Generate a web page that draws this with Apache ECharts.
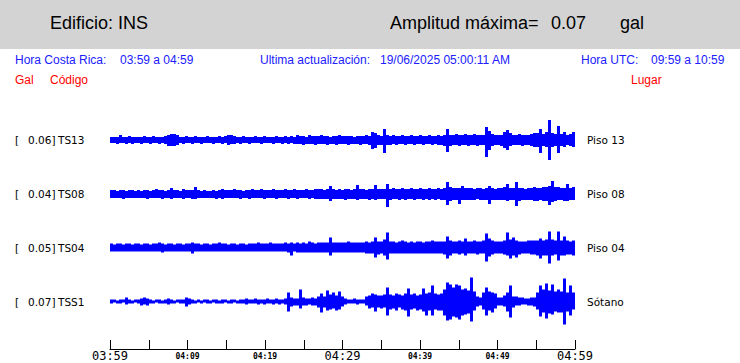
<!DOCTYPE html>
<html>
<head>
<meta charset="utf-8">
<script src="https://cdn.jsdelivr.net/npm/echarts@6/dist/echarts.min.js"></script>
<style>html,body{margin:0;padding:0;background:#fff}#c{width:740px;height:363px}</style>
</head>
<body>
<div id="c"></div>
<script>
// ---- data ----
var codes = ['TS13', 'TS08', 'TS04', 'TSS1'];
var places = ['Piso 13', 'Piso 08', 'Piso 04', 'Sótano'];
var peaks = ['0.06', '0.04', '0.05', '0.07'];
var tickLabels = ['03:59', '04:09', '04:19', '04:29', '04:39', '04:49', '04:59'];
var bigLabels = ['03:59', '04:29', '04:59'];
var durationMin = 60;

// envelope (upper / lower) per time bin, display units
var ts13Up = [3,3,3,5,3,3,4,3,3,3, 3,4,3,3,4,3,3,3,4,5, 6,6,5,3,3,4,3,3,4,3, 3,3,4,3,3,3,4,3,4,5, 5,4,3,3,4,3,3,3,4,3,
  3,4,3,3,3,4,3,3,4,3, 4,3,5,4,4,3,5,4,4,4, 5,4,4,3,4,4,5,4,4,4, 4,3,4,4,4,5,4,8,7,5, 4,11,5,4,5,4,4,5,4,4,
  5,4,4,5,4,4,5,4,4,5, 4,5,11,5,5,6,5,5,6,5, 5,6,5,5,5,13,9,6,5,5, 5,8,10,7,5,5,6,5,5,5, 6,7,7,11,6,8,20,7,6,14, 6,8,5,6,8];
var ts13Dn = [3,3,4,3,3,4,3,4,3,3, 4,3,3,4,3,3,4,3,4,6, 6,6,5,3,4,3,3,4,3,3, 4,3,3,3,4,3,3,4,3,5, 4,4,3,4,3,3,4,3,3,3,
  4,3,3,3,4,3,3,4,3,4, 3,4,4,4,5,4,4,4,5,4, 4,4,5,4,4,5,4,4,4,5, 4,4,4,5,4,4,5,9,8,5, 5,13,5,5,4,5,4,4,5,4,
  4,5,4,4,5,4,4,5,4,5, 5,6,12,6,5,5,6,5,5,6, 5,5,6,5,5,17,10,6,5,5, 6,8,10,6,5,5,5,6,5,5, 6,7,7,13,6,7,20,7,6,13, 6,7,5,6,7];
var ts08Up = [4,4,3,4,4,3,4,4,3,4, 3,4,4,3,4,5,4,4,3,4, 6,4,4,3,5,4,4,4,7,4, 3,4,3,3,4,3,4,5,4,4, 4,5,4,4,3,4,4,5,4,4,
  5,4,4,4,5,4,4,4,5,4, 4,5,4,4,4,5,4,4,5,5, 5,4,5,8,5,4,5,4,5,5, 4,5,9,5,5,4,5,5,9,5, 5,5,10,5,6,5,5,6,5,5,
  6,5,5,6,5,5,6,5,5,6, 5,6,12,7,6,6,6,8,6,6, 6,5,6,6,5,6,8,6,5,6, 6,7,10,6,6,12,6,6,5,6, 6,7,6,6,7,7,8,13,7,7, 6,6,10,6,7];
var ts08Dn = [4,4,4,4,5,4,4,4,4,4, 4,4,5,4,4,4,4,5,4,4, 5,4,4,4,5,4,4,5,5,4, 4,4,4,4,4,5,4,5,4,4, 4,4,4,5,4,4,5,4,4,4,
  4,5,4,4,4,5,4,4,4,5, 4,4,5,4,4,4,5,4,5,5, 5,5,5,7,5,5,5,5,6,5, 5,5,6,5,5,5,6,5,6,5, 5,5,13,6,5,5,6,5,6,5,
  5,6,5,5,6,5,6,5,6,5, 6,6,11,7,6,6,10,6,6,6, 6,6,5,6,6,6,10,6,6,6, 6,6,7,6,6,12,7,6,6,6, 6,7,7,6,7,7,11,8,7,6, 6,7,7,6,6];
var ts04Up = [4,3,4,4,3,4,4,3,4,4, 3,4,4,3,4,4,5,4,3,4, 4,3,4,4,3,4,4,5,4,4, 3,4,4,3,4,4,5,4,4,3, 4,4,3,4,4,3,4,4,4,5,
  4,4,4,5,4,4,4,4,5,4, 5,4,5,4,5,4,6,5,4,5, 5,5,5,10,5,5,5,5,5,6, 5,5,5,5,5,6,5,6,10,6, 6,8,15,6,6,5,6,7,6,5,
  6,5,6,6,5,6,6,7,6,6, 6,6,11,7,6,6,7,6,9,6, 6,7,6,6,7,14,9,7,6,6, 6,7,15,8,10,7,6,6,6,7, 7,7,7,9,7,8,16,8,7,16, 7,11,7,6,7];
var ts04Dn = [4,4,4,4,4,4,4,4,4,4, 4,4,4,4,4,4,4,5,4,4, 4,4,4,4,4,4,4,6,4,4, 4,4,4,4,4,4,4,4,4,4, 4,4,4,4,4,4,4,4,4,4,
  4,4,4,4,4,4,4,4,4,5, 8,4,5,5,5,5,5,5,5,5, 5,5,5,8,5,5,5,5,5,5, 5,5,5,5,5,6,6,6,10,7, 6,8,12,6,6,6,6,6,6,6,
  6,6,6,6,6,6,6,6,6,6, 6,7,11,8,6,6,7,6,8,6, 6,6,7,6,6,14,9,7,6,6, 6,7,8,11,8,10,7,6,6,6, 7,7,8,11,8,8,16,8,7,13, 8,8,7,7,8];
var tss1Up = [2,2,1,2,2,4,2,1,2,2, 3,4,3,2,1,2,2,1,2,3, 2,1,2,2,2,4,3,2,1,2, 1,2,2,1,2,2,1,2,2,1, 2,2,1,2,2,3,2,2,3,2,
  2,2,3,2,2,3,2,2,3,9, 4,3,3,12,4,3,3,4,3,5, 8,5,11,7,9,6,10,5,3,2, 2,3,2,2,2,5,6,8,7,6, 6,7,14,7,6,8,7,6,8,13,
  7,8,6,7,13,8,9,16,8,7, 8,12,19,17,14,17,16,12,13,11, 24,10,5,4,9,14,10,9,8,4, 4,6,9,16,5,5,4,4,3,3, 4,4,9,16,12,18,11,17,10,12, 10,23,9,16,9];
var tss1Dn = [2,1,2,2,1,3,2,2,1,2, 4,3,4,2,2,1,2,2,2,3, 2,2,1,2,2,5,3,2,2,1, 2,1,2,2,1,2,2,2,1,2, 2,1,2,2,2,3,2,2,2,3,
  2,3,2,2,3,2,3,2,3,10, 5,4,4,7,4,4,3,4,4,6, 11,6,9,8,7,9,8,5,3,2, 2,2,3,2,2,4,7,6,10,6, 7,6,14,8,7,9,6,8,9,15,
  8,7,9,8,10,14,9,14,8,9, 9,14,19,18,15,16,18,14,13,12, 20,9,5,4,8,14,9,11,7,4, 4,5,10,16,6,4,4,3,3,4, 4,5,8,15,11,17,12,13,10,11, 11,23,10,14,8];

var ups = [ts13Up, ts08Up, ts04Up, tss1Up];
var dns = [ts13Dn, ts08Dn, ts04Dn, tss1Dn];

// ---- layout ----
var centers = [140, 194, 247.5, 301.5];
var half = 30;
var plotLeft = 110, plotWidth = 465;
var blue = '#0000ff';

var grids = [], xAxes = [], yAxes = [], series = [];
centers.forEach(function (c, k) {
  grids.push({left: plotLeft, width: plotWidth, top: c - half, height: 2 * half});
  xAxes.push({gridIndex: k, type: 'value', min: 0, max: durationMin, show: false});
  yAxes.push({gridIndex: k, type: 'value', min: -half, max: half, show: false});
  var n = ups[k].length;
  var binW = durationMin / n;
  var data = ups[k].map(function (u, i) { return [i * binW, u, dns[k][i], (i + 1) * binW]; });
  series.push({
    type: 'custom', xAxisIndex: k, yAxisIndex: k, silent: true, animation: false,
    renderItem: function (params, api) {
      var p0 = api.coord([api.value(0), api.value(1)]);
      var p1 = api.coord([api.value(3), -api.value(2)]);
      return {type: 'rect', shape: {x: p0[0], y: p0[1], width: p1[0] - p0[0], height: p1[1] - p0[1]},
        style: {fill: blue}};
    },
    data: data
  });
});
// time axis
grids.push({left: plotLeft, width: plotWidth, top: 300, height: 49});
xAxes.push({
  gridIndex: 4, type: 'value', min: 0, max: durationMin, interval: 5,
  axisLine: {show: true, lineStyle: {color: '#000', width: 1}},
  axisTick: {show: true, inside: true, length: 9, lineStyle: {color: '#000'}},
  splitLine: {show: false},
  axisLabel: {
    margin: 7, verticalAlign: 'middle', showMinLabel: true, showMaxLabel: true,
    formatter: function (v) {
      if (v % 10 !== 0) return '';
      var t = tickLabels[v / 10];
      return bigLabels.indexOf(t) >= 0 ? '{b|' + t + '}' : '{s|' + t + '}';
    },
    rich: {
      b: {fontFamily: 'DejaVu Sans Mono', fontSize: 12, color: '#000', verticalAlign: 'middle'},
      s: {fontFamily: 'DejaVu Sans Mono', fontSize: 8, fontWeight: 'bold', color: '#000', verticalAlign: 'middle'}
    }
  }
});
yAxes.push({gridIndex: 4, type: 'value', show: false});

// ---- texts ----
var g = [];
g.push({type: 'rect', shape: {x: 0, y: 0, width: 740, height: 49}, style: {fill: '#d3d3d3'}, silent: true});
function txt(x, y, s, size, color, fam) {
  g.push({type: 'text', x: x, y: y, silent: true,
    style: {text: s, fontSize: size, fill: color, fontFamily: fam || 'Liberation Sans',
      textVerticalAlign: 'middle', verticalAlign: 'middle'}});
}
txt(50, 23, 'Edificio: INS', 18, '#000');
txt(390, 23, 'Amplitud máxima=', 18, '#000');
txt(551, 23, '0.07', 18, '#000');
txt(620, 23, 'gal', 18, '#000');
var tb = '#2020ff';
txt(15, 60, 'Hora Costa Rica:', 12, tb);
txt(120, 60, '03:59 a 04:59', 12, tb);
txt(260, 60, 'Ultima actualización:', 12, tb);
txt(380, 60, '19/06/2025 05:00:11 AM', 12, tb);
txt(581, 60, 'Hora UTC:', 12, tb);
txt(651, 60, '09:59 a 10:59', 12, tb);
txt(15, 80, 'Gal', 12, '#ff0000');
txt(50, 80, 'Código', 12, '#ff0000');
txt(631, 80, 'Lugar', 12, '#ff0000');
centers.forEach(function (c, k) {
  txt(15, c, '[', 10.5, '#000', 'DejaVu Sans');
  txt(28, c, peaks[k] + ']', 10.5, '#000', 'DejaVu Sans');
  txt(58, c, codes[k], 10.5, '#000', 'DejaVu Sans');
  txt(587, c, places[k], 10.5, '#000', 'DejaVu Sans');
});

var chart = echarts.init(document.getElementById('c'), null, {renderer: 'svg'});
chart.setOption({
  animation: false,
  grid: grids, xAxis: xAxes, yAxis: yAxes, series: series, graphic: g
});
</script>
</body>
</html>
